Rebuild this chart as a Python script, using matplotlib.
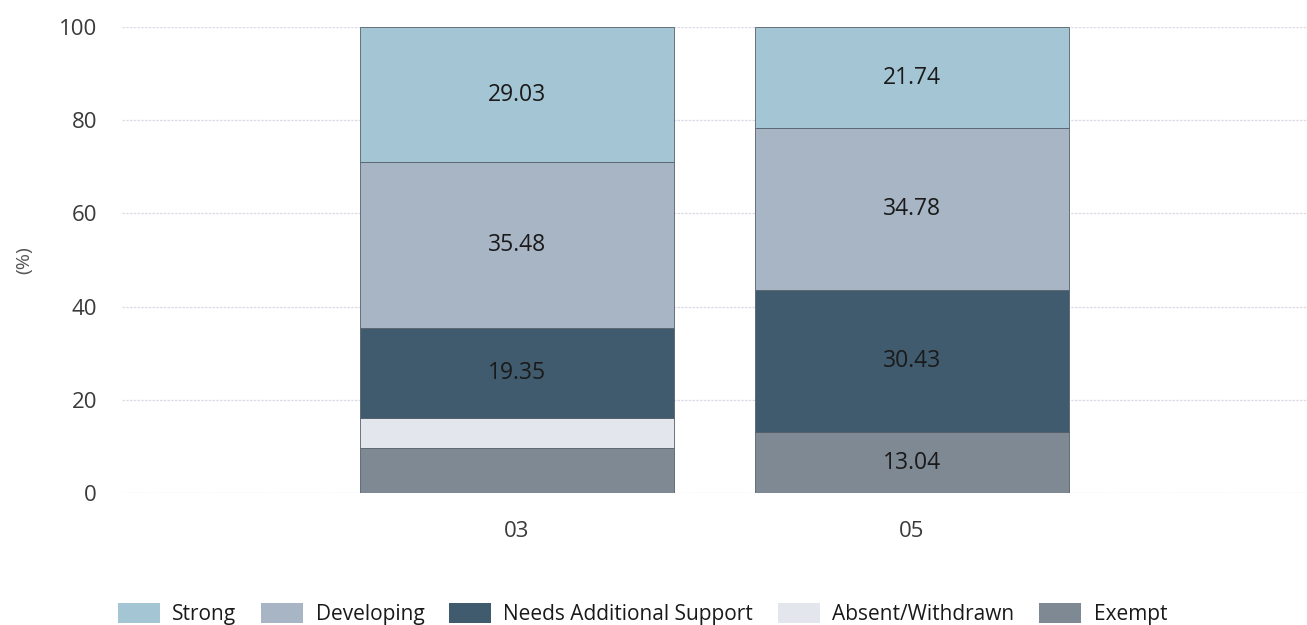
import matplotlib.pyplot as plt
import numpy as np

plt.rcParams['font.family'] = ['Open Sans', 'DejaVu Sans']

# data
categories = ['03', '05']
series_names = ['Exempt', 'Absent/Withdrawn', 'Needs Additional Support', 'Developing', 'Strong']
exempt = [9.68, 13.04]
absent = [6.45, 0.0]
needs_support = [19.35, 30.43]
developing = [35.48, 34.78]
strong = [29.03, 21.74]

colors = {
    'Strong': '#a4c5d3',
    'Developing': '#a7b5c5',
    'Needs Additional Support': '#3f5b6d',
    'Absent/Withdrawn': '#e3e6ec',
    'Exempt': '#7e8993',
}

fig = plt.figure(figsize=(13.07, 6.25), dpi=100)
ax = fig.add_axes([0.0933, 0.2112, 0.9067, 0.7456])

x = np.arange(len(categories))
bottom = np.zeros(len(categories))
handles = {}
for name, vals in zip(series_names, [exempt, absent, needs_support, developing, strong]):
    vals = np.array(vals)
    bars = ax.bar(x, vals, width=0.795, bottom=bottom, color=colors[name],
                  edgecolor='#55606a', linewidth=0.6, label=name, zorder=2)
    handles[name] = bars
    # small segments get no label
    for xi, v, b in zip(x, vals, bottom):
        if v >= 10:
            ax.text(xi, b + v / 2, f'{v:.2f}', ha='center', va='center',
                    fontsize=16.5, color='#1a1a1a', zorder=3)
    bottom += vals

ax.set_xlim(-1, 2)
ax.set_ylim(0, 100)
ax.set_yticks([0, 20, 40, 60, 80, 100])
ax.set_xticks(x)
ax.set_xticklabels(categories)
ax.tick_params(axis='both', length=0, labelsize=16, labelcolor='#3a3a3a')
ax.tick_params(axis='y', pad=18)
ax.tick_params(axis='x', pad=20)
ax.yaxis.grid(True, color='#d8dce6', linewidth=0.9, linestyle=(0, (2, 1)), zorder=0)
for s in ax.spines.values():
    s.set_visible(False)

fig.text(0.0185, 0.584, '(%)', rotation=90, ha='center', va='center',
         fontsize=14, color='#555555')

order = ['Strong', 'Developing', 'Needs Additional Support', 'Absent/Withdrawn', 'Exempt']
patches = [plt.Rectangle((0, 0), 1, 1, facecolor=colors[n], edgecolor='none') for n in order]
fig.legend(patches, order, loc='lower left',
           bbox_to_anchor=(0.076, -0.03), ncol=5, frameon=False, fontsize=15,
           handlelength=2.0, handleheight=1.1, columnspacing=1.2, handletextpad=0.6,
           labelcolor='#1a1a1a')

fig.savefig('out.png', dpi=100)
